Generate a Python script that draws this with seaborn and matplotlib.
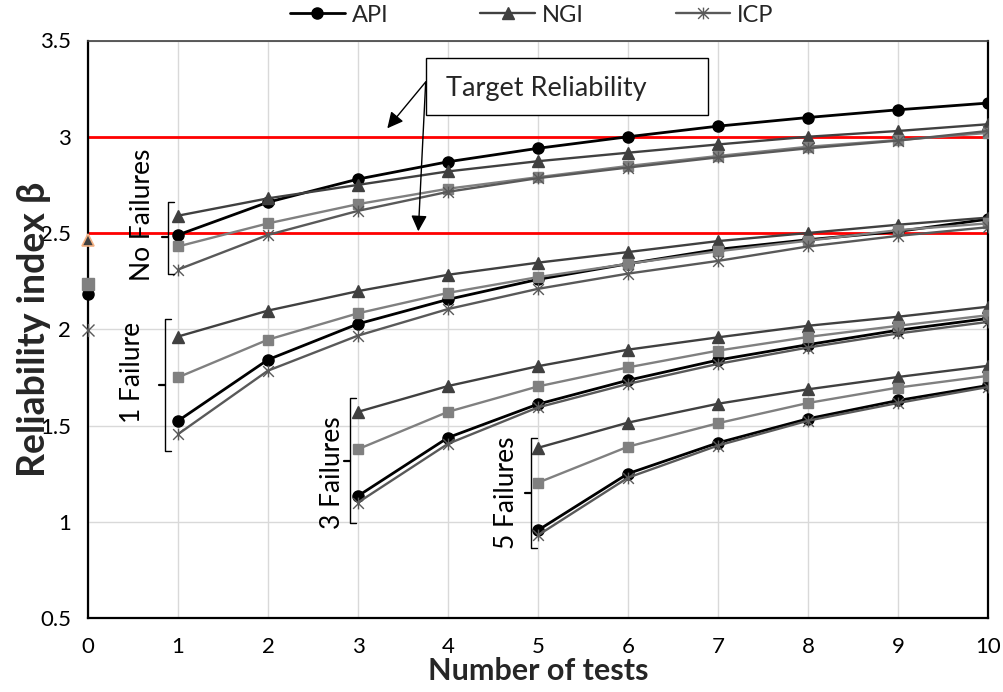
import numpy as np
import pandas as pd
import matplotlib
matplotlib.use("Agg")
import matplotlib.pyplot as plt
from matplotlib.path import Path
from matplotlib.lines import Line2D
from matplotlib.patches import Rectangle
import seaborn as sns

# ---------------- data ----------------
tests_all = [1, 2, 3, 4, 5, 6, 7, 8, 9, 10]
tests_3f = [3, 4, 5, 6, 7, 8, 9, 10]
tests_5f = [5, 6, 7, 8, 9, 10]

# No failures
api_0f = [2.49, 2.66, 2.78, 2.87, 2.94, 3.00, 3.055, 3.10, 3.14, 3.175]
ngi_0f = [2.59, 2.68, 2.75, 2.82, 2.873, 2.917, 2.96, 3.00, 3.03, 3.065]
sq_0f = [2.43, 2.55, 2.65, 2.73, 2.79, 2.848, 2.90, 2.948, 2.983, 3.02]
icp_0f = [2.31, 2.49, 2.615, 2.714, 2.785, 2.84, 2.893, 2.94, 2.98, 3.03]

# 1 failure
api_1f = [1.524, 1.842, 2.028, 2.155, 2.259, 2.34, 2.415, 2.465, 2.508, 2.572]
ngi_1f = [1.962, 2.097, 2.198, 2.283, 2.346, 2.401, 2.458, 2.50, 2.543, 2.58]
sq_1f = [1.75, 1.946, 2.083, 2.189, 2.271, 2.34, 2.405, 2.46, 2.515, 2.55]
icp_1f = [1.455, 1.785, 1.967, 2.105, 2.21, 2.289, 2.355, 2.43, 2.485, 2.53]

# 3 failures
api_3f = [1.134, 1.437, 1.611, 1.735, 1.84, 1.92, 1.995, 2.056]
ngi_3f = [1.571, 1.705, 1.808, 1.894, 1.958, 2.018, 2.065, 2.117]
sq_3f = [1.377, 1.571, 1.703, 1.802, 1.889, 1.96, 2.018, 2.073]
icp_3f = [1.10, 1.405, 1.594, 1.716, 1.82, 1.905, 1.978, 2.038]

# 5 failures
api_5f = [0.956, 1.25, 1.41, 1.535, 1.63, 1.708]
ngi_5f = [1.384, 1.515, 1.613, 1.688, 1.752, 1.81]
sq_5f = [1.203, 1.39, 1.512, 1.617, 1.697, 1.758]
icp_5f = [0.93, 1.229, 1.396, 1.525, 1.617, 1.70]

# values at zero tests
zero_api = 2.184
zero_ngi = 2.462
zero_sq = 2.236
zero_icp = 1.997

target_levels = [2.5, 3.0]
x_ticks = list(range(0, 11))
y_ticks = [0.5, 1.0, 1.5, 2.0, 2.5, 3.0, 3.5]
y_tick_labels = ["0.5", "1", "1.5", "2", "2.5", "3", "3.5"]

# ---------------- style ----------------
sns.set_style("white")
FONT = ["Lato", "DejaVu Sans"]
plt.rcParams["font.family"] = FONT

star = Path([(-1, -1), (1, 1), (-1, 1), (1, -1), (0, -1.1), (0, 1.1)],
            [Path.MOVETO, Path.LINETO, Path.MOVETO, Path.LINETO, Path.MOVETO, Path.LINETO])

styles = {
    "API": dict(color="#000000", lw=2.0, marker="o", ms=8.0, mfc="#000000", mec="#000000", mew=1.0),
    "NGI": dict(color="#404040", lw=1.7, marker="^", ms=8.0, mfc="#404040", mec="#404040", mew=1.0),
    "SQ": dict(color="#808080", lw=1.7, marker="s", ms=7.5, mfc="#808080", mec="#808080", mew=1.0),
    "ICP": dict(color="#595959", lw=1.7, marker=star, ms=8.5, mfc="none", mec="#595959", mew=1.0),
}

groups = [
    (tests_all, {"API": api_0f, "NGI": ngi_0f, "SQ": sq_0f, "ICP": icp_0f}),
    (tests_all, {"API": api_1f, "NGI": ngi_1f, "SQ": sq_1f, "ICP": icp_1f}),
    (tests_3f, {"API": api_3f, "NGI": ngi_3f, "SQ": sq_3f, "ICP": icp_3f}),
    (tests_5f, {"API": api_5f, "NGI": ngi_5f, "SQ": sq_5f, "ICP": icp_5f}),
]

fig = plt.figure(figsize=(10.04, 6.92), dpi=100)
ax = fig.add_axes([88 / 1004, 1 - 618 / 692, 900 / 1004, (618 - 40.5) / 692])

# grid
ax.set_axisbelow(True)
ax.grid(True, color="#d9d9d9", lw=1.0)

# target lines
for lvl in target_levels:
    ax.axhline(lvl, color="#ff0000", lw=2.0, zorder=2)

# series
order = ["API", "NGI", "SQ", "ICP"]
for xs, d in groups:
    for name in order:
        st = styles[name]
        df = pd.DataFrame({"tests": xs, "beta": d[name]})
        sns.lineplot(data=df, x="tests", y="beta", ax=ax, color=st["color"], lw=st["lw"],
                     marker=st["marker"], markersize=st["ms"], markerfacecolor=st["mfc"],
                     markeredgecolor=st["mec"], markeredgewidth=st["mew"], zorder=3,
                     legend=False, estimator=None, sort=False)

# zero-test points
ax.plot([0], [zero_api], ls="none", marker="o", ms=8, color="#000000", clip_on=False, zorder=4)
ax.plot([0], [zero_sq], ls="none", marker="s", ms=9, color="#808080", clip_on=False, zorder=5)
ax.plot([0], [zero_ngi], ls="none", marker="^", ms=9, mfc="#404040", mec="#f4b183", mew=1.2, clip_on=False, zorder=5)
ax.plot([0], [zero_icp], ls="none", marker=star, ms=9.5, mfc="none", mec="#595959", mew=1.0, clip_on=False, zorder=5)

# axes
ax.set_xlim(0, 10)
ax.set_ylim(0.5, 3.5)
ax.set_xticks(x_ticks)
ax.set_yticks(y_ticks)
ax.set_yticklabels(y_tick_labels)
ax.tick_params(axis="both", direction="out", length=6, width=1.2, labelsize=16, colors="black", pad=6)
ax.tick_params(axis="x", pad=8)
for s in ["left", "bottom", "right"]:
    ax.spines[s].set_color("black")
    ax.spines[s].set_linewidth(1.6)
ax.spines["top"].set_color("#404040")
ax.spines["top"].set_linewidth(1.2)
ax.set_xlabel("Number of tests", fontsize=22, fontweight="bold", labelpad=0)
ax.set_ylabel("Reliability index β", fontsize=27, fontweight="bold")
ax.yaxis.set_label_coords(-0.041, 0.5)


# helpers to convert reference pixel positions to data coords
def px(xp):
    return (xp - 88) / 90.0


def py(yp):
    return 3.0 - (yp - 136.7) / 192.0


# brackets
def bracket(xl, ytop, ybot, ymid, serif=6, tick=6):
    xs = [px(xl + serif), px(xl), px(xl), px(xl + serif)]
    ys = [py(ytop), py(ytop), py(ybot), py(ybot)]
    ax.plot(xs, ys, color="black", lw=1.0, zorder=4, clip_on=False)
    ax.plot([px(xl), px(xl - tick)], [py(ymid), py(ymid)], color="black", lw=1.6, zorder=4)


bracket(168, 202, 274, 237)
bracket(165, 318, 450, 384)
bracket(350, 397, 522, 460)
bracket(531, 437, 547, 492)

lab_kw = dict(rotation=90, ha="center", va="center", fontsize=19, color="black")
ax.text(px(143), py(215), "No Failures", **lab_kw)
ax.text(px(133), py(372), "1 Failure", **lab_kw)
ax.text(px(333), py(472), "3 Failures", **lab_kw)
ax.text(px(507), py(492), "5 Failures", **lab_kw)

# target reliability box and arrows
ax.add_patch(Rectangle((px(425.7), py(115)), px(708.3) - px(425.7), py(58.3) - py(115),
                       facecolor="white", edgecolor="black", lw=1.0, zorder=6))
ax.text(px(446), py(89), "Target Reliability", fontsize=19.5, ha="left", va="center", zorder=7)
for tip in [(387.3, 128.3), (418.3, 231.0)]:
    ax.annotate("", xy=(px(tip[0]), py(tip[1])), xytext=(px(425.7), py(82)),
                arrowprops=dict(arrowstyle="-|>", color="black", lw=1.0, mutation_scale=24,
                                shrinkA=0, shrinkB=0), zorder=7)

# legend
handles = [
    Line2D([], [], color="#000000", lw=2.0, marker="o", ms=8),
    Line2D([], [], color="#404040", lw=1.7, marker="^", ms=8),
    Line2D([], [], color="#595959", lw=1.7, marker=star, ms=8.5, mfc="none", mec="#595959"),
]
fig.legend(handles, ["API", "NGI", "ICP"], loc="center", bbox_to_anchor=(532 / 1004, 1 - 15 / 692),
           ncol=3, frameon=False, fontsize=17, handlelength=2.3, columnspacing=3.9, handletextpad=0.3)

fig.savefig("out.png", dpi=100)
